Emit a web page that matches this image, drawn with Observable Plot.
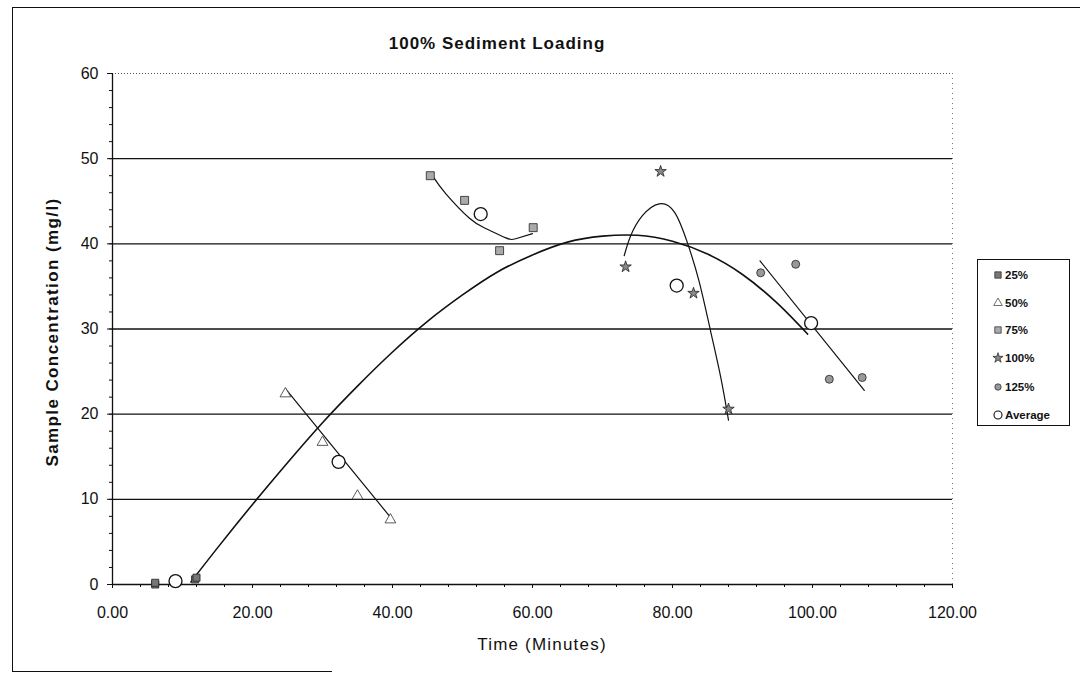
<!DOCTYPE html>
<html>
<head>
<meta charset="utf-8">
<script src="https://cdn.jsdelivr.net/npm/d3@7"></script>
<script src="https://cdn.jsdelivr.net/npm/@observablehq/plot@0.6"></script>
<style>
  html, body { margin: 0; padding: 0; background: #fff; }
  #wrap { position: relative; width: 1080px; height: 674px; overflow: hidden; font-family: "Liberation Sans", Arial, sans-serif; color: #111; }
  #wrap svg.plot { position: absolute; left: 0; top: 0; }
  .ov { position: absolute; white-space: nowrap; }
  #title { left: 497px; top: 34px; transform: translateX(-50%); font-size: 17px; font-weight: bold; letter-spacing: 1px; }
  #ylab { left: 53px; top: 332px; transform: translate(-50%, -50%) rotate(-90deg); font-size: 17px; font-weight: bold; letter-spacing: 1.4px; }
  #xlab { left: 542px; top: 635px; transform: translateX(-50%); font-size: 17px; letter-spacing: 1.2px; }
  #legend { left: 977px; top: 259px; width: 93px; height: 167px; border: 1px solid #111; box-sizing: border-box; background: #fff; }
  .lg { position: absolute; left: 14px; font-size: 11.5px; font-weight: bold; display: flex; align-items: center; }
  .lg svg { width: 12px; height: 12px; margin-right: 1px; }
  .bl { position: absolute; background: #111; }
</style>
</head>
<body>
<div id="wrap"></div>
<script>
// ---- data ----
const xTicks = [0, 20, 40, 60, 80, 100, 120];
const yTicks = [0, 10, 20, 30, 40, 50, 60];
const xMinor = d3.range(0, 121, 4);
const yMinor = d3.range(0, 61, 2);
const gridY = [10, 20, 30, 40, 50];

const seriesNames = ["25%", "50%", "75%", "100%", "125%", "Average"];

const t25 = [6.1, 6.1, 11.8, 12.0];
const c25 = [0.0, 0.2, 0.6, 0.8];
const t50 = [24.7, 30.0, 35.0, 39.7];
const c50 = [22.4, 16.7, 10.4, 7.6];
const t75 = [45.4, 50.3, 55.3, 60.1];
const c75 = [48.0, 45.1, 39.2, 41.9];
const t100 = [73.3, 78.3, 83.0, 88.0];
const c100 = [37.3, 48.5, 34.2, 20.6];
const t125 = [92.6, 97.6, 102.4, 107.1];
const c125 = [36.6, 37.6, 24.1, 24.3];
const tAvg = [9.0, 32.3, 52.6, 80.6, 99.8];
const cAvg = [0.4, 14.4, 43.5, 35.1, 30.7];

// trend lines
const fitAvgT = [11.2, 15, 20, 25, 30, 35, 40, 45, 50, 55, 60, 65, 70, 75, 80, 85, 90, 95, 99.3];
const fitAvgC = [0.3, 4.3, 9.4, 14.3, 19.0, 23.3, 27.3, 30.9, 34.0, 36.7, 38.7, 40.2, 40.9, 41.0, 40.3, 38.8, 36.4, 33.0, 29.4];
const fit50T = [24.7, 40.3];
const fit50C = [23.0, 7.3];
const fit75T = [45.7, 47.6, 51.0, 53.3, 56.2, 57.6, 60.0];
const fit75C = [48.0, 45.9, 43.0, 41.8, 40.7, 40.6, 41.2];
const fit100T = [73.1, 74.0, 75.7, 78.1, 80.3, 82.1, 83.8, 85.4, 86.9, 88.0];
const fit100C = [38.6, 40.9, 43.3, 44.7, 43.7, 40.2, 35.6, 29.9, 24.3, 19.3];
const fit125T = [92.5, 107.4];
const fit125C = [38.0, 22.8];

const zip = (xs, ys) => xs.map((x, i) => ({x, y: ys[i]}));

const styles = {
  "25%":   {symbol: "square",   r: 4,   fill: "#777", stroke: "#222"},
  "50%":   {symbol: "triangle", r: 4,   fill: "#fff", stroke: "#333"},
  "75%":   {symbol: "square",   r: 4.5, fill: "#aaa", stroke: "#222"},
  "100%":  {symbol: "star",     r: 3.6, fill: "#888", stroke: "#222"},
  "125%":  {symbol: "circle",   r: 4,   fill: "#999", stroke: "#222"},
  "Average": {symbol: "circle", r: 6.5, fill: "#fff", stroke: "#111"}
};
const pts = {
  "25%": zip(t25, c25), "50%": zip(t50, c50), "75%": zip(t75, c75),
  "100%": zip(t100, c100), "125%": zip(t125, c125), "Average": zip(tAvg, cAvg)
};
const fits = [zip(fitAvgT, fitAvgC), zip(fit50T, fit50C), zip(fit75T, fit75C), zip(fit100T, fit100C), zip(fit125T, fit125C)];

const plot = Plot.plot({
  width: 1080,
  height: 674,
  marginLeft: 112,
  marginRight: 128,
  marginTop: 73,
  marginBottom: 90,
  style: {fontFamily: "'Liberation Sans', Arial, sans-serif", fontSize: "16px", color: "#111", background: "transparent"},
  x: {domain: [0, 120]},
  y: {domain: [0, 60]},
  marks: [
    Plot.ruleY([60], {stroke: "#555", strokeWidth: 1, strokeDasharray: "1,2"}),
    Plot.ruleX([120], {stroke: "#777", strokeWidth: 1, strokeDasharray: "1,4"}),
    Plot.ruleY(gridY, {stroke: "#111", strokeWidth: 1.3}),
    Plot.axisY({ticks: yMinor, tickSize: 3, tickFormat: () => "", label: null, stroke: "#111"}),
    Plot.axisY({ticks: yTicks, tickSize: 5, tickPadding: 9, tickFormat: d => String(d), label: null, fontSize: 16}),
    Plot.axisX({ticks: xMinor, tickSize: 3, tickFormat: () => "", label: null}),
    Plot.axisX({ticks: xTicks, tickSize: 4, tickPadding: 18, tickFormat: d => d.toFixed(2), label: null, fontSize: 16}),
    Plot.ruleY([0], {stroke: "#111", strokeWidth: 1.3}),
    Plot.ruleX([0], {stroke: "#111", strokeWidth: 1.3}),
    ...fits.map((f, i) => Plot.line(f, {x: "x", y: "y", curve: "natural", stroke: "#111", strokeWidth: i === 0 ? 1.6 : 1.2})),
    ...seriesNames.map(s => Plot.dot(pts[s], {x: "x", y: "y", ...styles[s], strokeWidth: s === "Average" ? 1.3 : 0.8}))
  ]
});
plot.classList.add("plot");
const wrap = document.getElementById("wrap");
wrap.appendChild(plot);

// border lines of the scanned page
function bar(l, t, w, h) { const d = document.createElement("div"); d.className = "bl"; Object.assign(d.style, {left: l + "px", top: t + "px", width: w + "px", height: h + "px"}); wrap.appendChild(d); }
bar(12, 7, 1068, 1);
bar(12, 7, 1, 665);
bar(12, 671, 320, 1);

function ov(id, text) { const d = document.createElement("div"); d.className = "ov"; d.id = id; d.textContent = text; wrap.appendChild(d); return d; }
ov("title", "100% Sediment Loading");
ov("ylab", "Sample Concentration (mg/l)");
ov("xlab", "Time (Minutes)");

// legend
const leg = document.createElement("div");
leg.className = "ov"; leg.id = "legend";
wrap.appendChild(leg);
const rowTops = [17, 45, 72, 100, 129, 157];
const symMap = {square: d3.symbolSquare, triangle: d3.symbolTriangle, star: d3.symbolStar, circle: d3.symbolCircle};
seriesNames.forEach((s, i) => {
  const st = styles[s];
  const row = document.createElement("div");
  row.className = "lg";
  row.style.top = (rowTops[i] - 8) + "px";
  const rr = s === "Average" ? 4 : 3.2;
  const size = st.symbol === "square" ? (2 * rr) * (2 * rr) : Math.PI * rr * rr;
  const path = d3.symbol(symMap[st.symbol], size)();
  row.innerHTML = `<svg viewBox="-6 -6 12 12"><path d="${path}" fill="${st.fill}" stroke="${st.stroke}" stroke-width="${s === "Average" ? 1.1 : 0.7}"/></svg><span>${s}</span>`;
  leg.appendChild(row);
});
</script>
</body>
</html>
